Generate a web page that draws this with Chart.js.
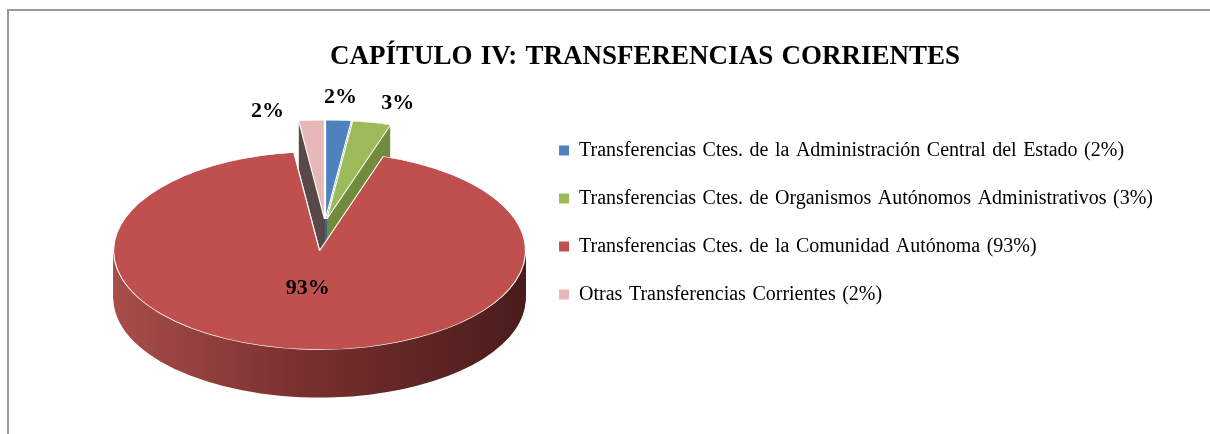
<!DOCTYPE html>
<html>
<head>
<meta charset="utf-8">
<script src="https://cdn.jsdelivr.net/npm/chart.js@4/dist/chart.umd.min.js"></script>
<style>
    html, body { margin: 0; padding: 0; background: #fff; }
    #wrap { position: relative; width: 1210px; height: 434px; overflow: hidden; }
    #frame { position: absolute; left: 7px; top: 9px; width: 1300px; height: 500px;
             border-top: 2px solid #9a9a9a; border-left: 2px solid #9a9a9a; }
    canvas { position: absolute; left: 0; top: 0; }
</style>
</head>
<body>
<div id="wrap">
    <div id="frame"></div>
    <canvas id="pieChart" width="1210" height="434"></canvas>
</div>
<script>
const chartTitle = 'CAPÍTULO IV: TRANSFERENCIAS CORRIENTES';
const categories = [
    'Transferencias Ctes. de la Administración Central del Estado',
    'Transferencias Ctes. de Organismos Autónomos Administrativos',
    'Transferencias Ctes. de la Comunidad Autónoma',
    'Otras Transferencias Corrientes',
];
const shares = [2, 3, 93, 2];
const topColors = ['#4f81bd', '#9bbb59', '#c0504d', '#e6b9b8'];
const sideColors = ['#3b6699', '#728b3f', 'gradient', '#5a4a4a'];

// 3D look: squashed pie with a side wall, drawn from the library's arc elements
const pie3d = {
    id: 'pie3d',
    beforeUpdate(chart) {
        // the legend text in the original has wide word gaps
        chart.ctx.wordSpacing = '1.5px';
    },
    beforeDatasetsDraw(chart, args, opts) {
        const ctx = chart.ctx;
        const arcs = chart.getDatasetMeta(0).data;
        const base = arcs[0];
        const R = base.outerRadius;
        const sx = opts.rx / R;
        const sy = opts.ry / R;

        const mid = (arc) => (arc.startAngle + arc.endAngle) / 2;
        const place = (arc, i, dy) => {
            const a = mid(arc);
            const e = opts.explode[i] * R;
            ctx.translate(opts.cx, opts.cy + dy);
            ctx.scale(sx, sy);
            ctx.translate(-base.x + Math.cos(a) * e, -base.y + Math.sin(a) * e);
        };
        const drawArc = (arc, i, dy, fill, bw) => {
            const saved = arc.options;
            arc.options = Object.assign({}, saved, { offset: 0, backgroundColor: fill, borderWidth: bw });
            ctx.save();
            place(arc, i, dy);
            arc.draw(ctx);
            ctx.restore();
            arc.options = saved;
        };

        const grad = ctx.createLinearGradient(base.x - R, 0, base.x + R, 0);
        grad.addColorStop(0, '#a84e4b');
        grad.addColorStop(0.45, '#7a302f');
        grad.addColorStop(1, '#4a1c1c');

        // side walls
        for (let d = opts.depth; d > 0; d--) {
            arcs.forEach((arc, i) => {
                const fill = sideColors[i] === 'gradient' ? grad : sideColors[i];
                drawArc(arc, i, d, fill, 0);
            });
        }
        // top faces
        arcs.forEach((arc, i) => drawArc(arc, i, 0, topColors[i], 1));

        // percentage labels
        ctx.save();
        ctx.font = 'bold 22px "Liberation Serif"';
        ctx.fillStyle = '#000';
        ctx.textAlign = 'center';
        ctx.textBaseline = 'middle';
        arcs.forEach((arc, i) => {
            const a = mid(arc);
            const f = shares[i] > 50 ? 0.4 : 1;
            const e = opts.explode[i];
            const x = opts.cx + opts.rx * Math.cos(a) * (f + e);
            const y = opts.cy + opts.ry * Math.sin(a) * (f + e);
            const s = opts.labelShift[i];
            ctx.fillText(shares[i] + '%', x + s[0], y + s[1]);
        });
        ctx.restore();
        return false;
    },
};

const ctx = document.getElementById('pieChart').getContext('2d');
const chart = new Chart(ctx, {
    type: 'pie',
    data: {
        labels: categories.map((c, i) => c + ' (' + shares[i] + '%)'),
        datasets: [{
            data: shares,
            backgroundColor: topColors,
            borderColor: '#ffffff',
            borderWidth: 1,
        }],
    },
    options: {
        responsive: false,
        animation: false,
        layout: { padding: { left: 127, right: 47, top: 11, bottom: 0 } },
        plugins: {
            title: {
                display: true,
                text: chartTitle,
                color: '#000',
                font: { family: '"Liberation Serif"', size: 27, weight: 'bold' },
                padding: { top: 30, bottom: 20 },
            },
            legend: {
                position: 'right',
                align: 'center',
                maxWidth: 700,
                labels: {
                    color: '#000',
                    font: { family: '"Liberation Serif"', size: 20 },
                    boxWidth: 10,
                    boxHeight: 10,
                    padding: 28,
                    generateLabels: (c) => c.data.labels.map((text, i) => ({
                        text,
                        fillStyle: topColors[i],
                        strokeStyle: topColors[i],
                        lineWidth: 0,
                        index: i,
                    })),
                },
            },
            tooltip: { enabled: false },
            pie3d: {
                cx: 325,
                cy: 223,
                rx: 206,
                ry: 99,
                depth: 48,
                explode: [0.04, 0.04, 0.28, 0.04],
                labelShift: [[2, -23], [26, -19], [-4, -2], [-44, -9]],
            },
        },
    },
    plugins: [pie3d],
});
</script>
</body>
</html>
